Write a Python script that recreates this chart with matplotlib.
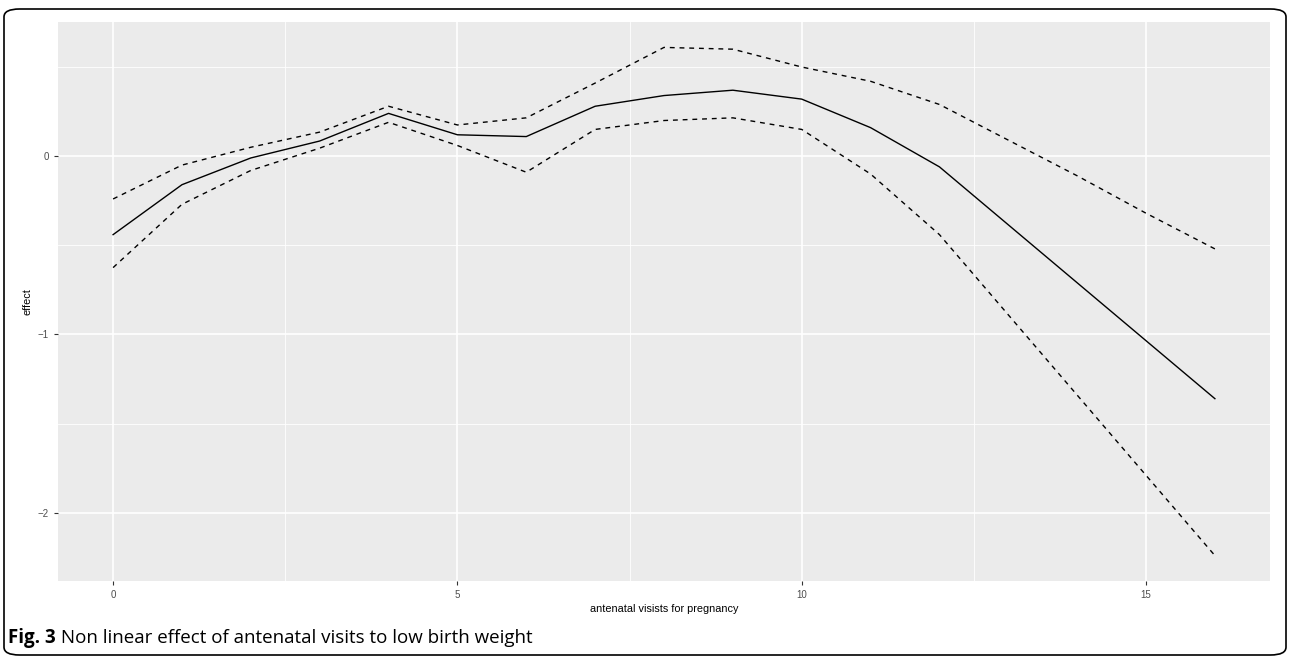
import matplotlib.pyplot as plt
import numpy as np
from matplotlib.patches import FancyBboxPatch
from matplotlib.ticker import MultipleLocator

# DATA
visits = list(range(0, 17))
effect = [-0.44, -0.16, -0.01, 0.085, 0.24, 0.12, 0.11, 0.28, 0.34, 0.37,
          0.32, 0.16, -0.06, -0.385, -0.71, -1.035, -1.36]
upper = [-0.24, -0.05, 0.05, 0.135, 0.28, 0.175, 0.215, 0.41, 0.61, 0.60,
         0.50, 0.42, 0.29, 0.09, -0.11, -0.32, -0.52]
lower = [-0.625, -0.27, -0.08, 0.045, 0.19, 0.06, -0.09, 0.15, 0.20, 0.215,
         0.15, -0.10, -0.44, -0.89, -1.34, -1.79, -2.24]
xTicks = [0, 5, 10, 15]
yTicks = [-2, -1, 0]
xLabel = 'antenatal visists for pregnancy'
yLabel = 'effect'
captionBold = 'Fig. 3'
captionText = ' Non linear effect of antenatal visits to low birth weight'

# FIGURE
fig = plt.figure(figsize = (12.9, 6.58), dpi = 100)
ax = fig.add_axes([58/1290, 1 - 581/658, (1270 - 58)/1290, (581 - 22)/658])

ax.set_facecolor('#EBEBEB')
for side in ax.spines.values():
    side.set_visible(False)

ax.plot(visits, upper, color = 'black', lw = 1.0, ls = (0, (3.5, 3.5)))
ax.plot(visits, lower, color = 'black', lw = 1.0, ls = (0, (3.5, 3.5)))
ax.plot(visits, effect, color = 'black', lw = 1.0)

ax.margins(x = 0.05, y = 0.05)
ax.set_xticks(xTicks)
ax.set_yticks(yTicks)
ax.xaxis.set_minor_locator(MultipleLocator(2.5))
ax.yaxis.set_minor_locator(MultipleLocator(0.5))
ax.grid(which = 'major', color = 'white', lw = 1.2)
ax.grid(which = 'minor', color = 'white', lw = 0.6)
ax.set_axisbelow(True)
ax.tick_params(which = 'major', length = 3, color = '#333333', labelcolor = '#4D4D4D',
               labelsize = 7, width = 0.8)
ax.tick_params(which = 'minor', length = 0)
ax.set_xticklabels([str(t) for t in xTicks], family = ['Liberation Sans', 'DejaVu Sans'])
ax.set_yticklabels([str(t).replace('-', '\u2212') for t in yTicks],
                   family = ['Liberation Sans', 'DejaVu Sans'])

ax.set_xlabel(xLabel, fontsize = 7.8, family = ['Liberation Sans', 'DejaVu Sans'], labelpad = 3)
ax.set_ylabel(yLabel, fontsize = 7.8, family = ['Liberation Sans', 'DejaVu Sans'], labelpad = 4)

# CAPTION
t1 = fig.text(8/1290, 1 - 638/658, captionBold, fontsize = 13.5, weight = 'bold',
              family = 'Open Sans', va = 'center')
fig.canvas.draw()
bb = t1.get_window_extent()
fig.text(bb.x1/1290, 1 - 638/658, captionText, fontsize = 13.5,
         family = 'Open Sans', va = 'center')

# BORDER
border = FancyBboxPatch((4/1290, 3/658), 1282/1290, 646/658,
                        boxstyle = 'round,pad=0,rounding_size=0.012',
                        transform = fig.transFigure, fill = False,
                        edgecolor = 'black', lw = 1.2)
fig.patches.append(border)

fig.savefig('out.png', dpi = 100)
